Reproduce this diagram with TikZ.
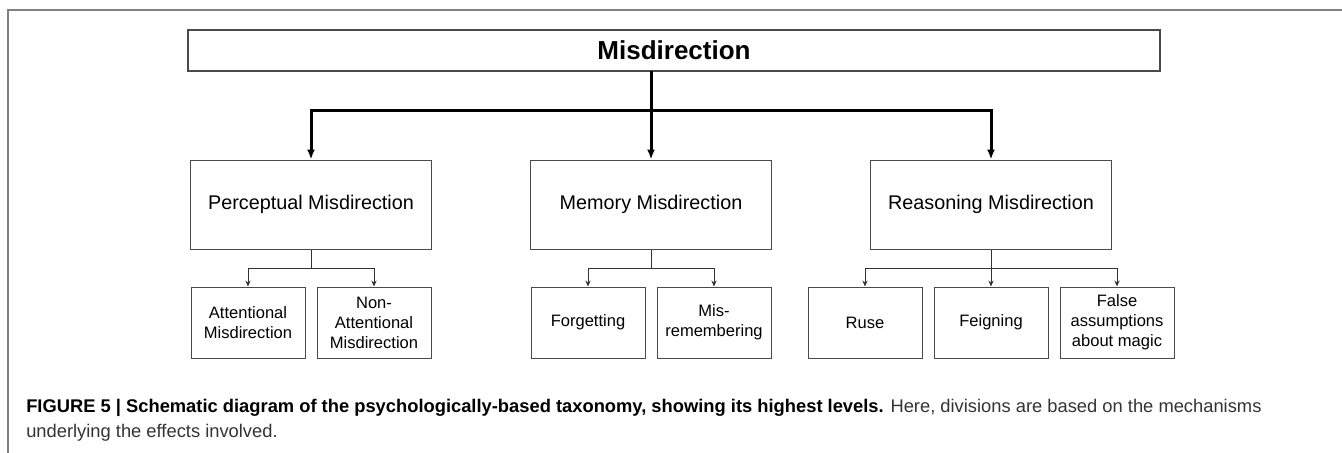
\documentclass[tikz,border=0pt]{standalone}
\usepackage{fontspec}
\setmainfont{Liberation Sans}
\usetikzlibrary{arrows.meta}

\definecolor{framegray}{HTML}{808080}
\definecolor{boxgray}{HTML}{4A4A4A}
\definecolor{captext}{HTML}{333333}

\begin{document}
\begin{tikzpicture}[x=0.75pt, y=0.75pt,
      topbox/.style = {draw=boxgray, line width=0.8pt,
        minimum width=729pt, minimum height=30.75pt,
        font=\fontsize{19.5}{23}\selectfont\bfseries},
      midbox/.style = {draw=boxgray, line width=0.75pt,
        minimum width=180.75pt, minimum height=66.75pt,
        font=\fontsize{14.85}{18}\selectfont},
      leafbox/.style = {draw=boxgray, line width=0.75pt, align=center,
        minimum width=85.5pt, minimum height=53.25pt, inner sep=1pt,
        font=\fontsize{12.4}{15}\selectfont},
      level 1/.style = {level distance=100.125pt, sibling distance=255pt,
        edge from parent/.style={draw, line width=2.25pt,
          -{Latex[length=7.5pt,width=6pt]}},
        edge from parent path={(\tikzparentnode)
          -- ++(0,-29.25pt) -| (\tikzchildnode.north)}},
      level 2/.style = {level distance=88.5pt, sibling distance=94.5pt,
        edge from parent/.style={draw=captext, line width=0.75pt,
          -{Stealth[length=4.5pt,width=4pt]}},
        edge from parent path={(\tikzparentnode.south)
          -- ++(0,-14.25pt) -| (\tikzchildnode.north)}}]
  \useasboundingbox (0,0) rectangle (1342,-453);
  % open frame round the figure
  \draw[framegray, line width=1pt] (8,-453) |- (1342,-10);

  \node[topbox] (mis) at (674,-50.5) {Misdirection};
  % the tree hangs from a point on the lower edge of the title box
  \node[coordinate] (hub) at (651,-71) {}
    child { node[midbox] (perc) {Perceptual Misdirection}
      child { node[leafbox] (att) {Attentional\\Misdirection} }
      child { node[leafbox] (nonatt) {Non-\\Attentional\\Misdirection} } }
    child { node[midbox] (mem) {Memory Misdirection}
      child { node[leafbox] (forg) {Forgetting} }
      child { node[leafbox] (misrem) {Mis-\\remembering} } }
    child { node[midbox] (reas) {Reasoning Misdirection}
      child { node[leafbox] (ruse) {Ruse} }
      child { node[leafbox] (feign) {Feigning} }
      child { node[leafbox] (falseas) {False\\assumptions\\about magic} } };

  % caption
  \node[anchor=base west, inner sep=0, text=captext,
    font=\fontsize{13.75}{18}\selectfont] (capa) at (26,-412)
    {\textcolor{black}{\bfseries FIGURE 5 | Schematic diagram of the psychologically-based taxonomy, showing its highest levels.} Here, divisions are based on the mechanisms};
  \node[anchor=base west, inner sep=0, text=captext,
    font=\fontsize{13.75}{18}\selectfont] (capb) at (26,-437)
    {underlying the effects involved.};
\end{tikzpicture}
\end{document}
